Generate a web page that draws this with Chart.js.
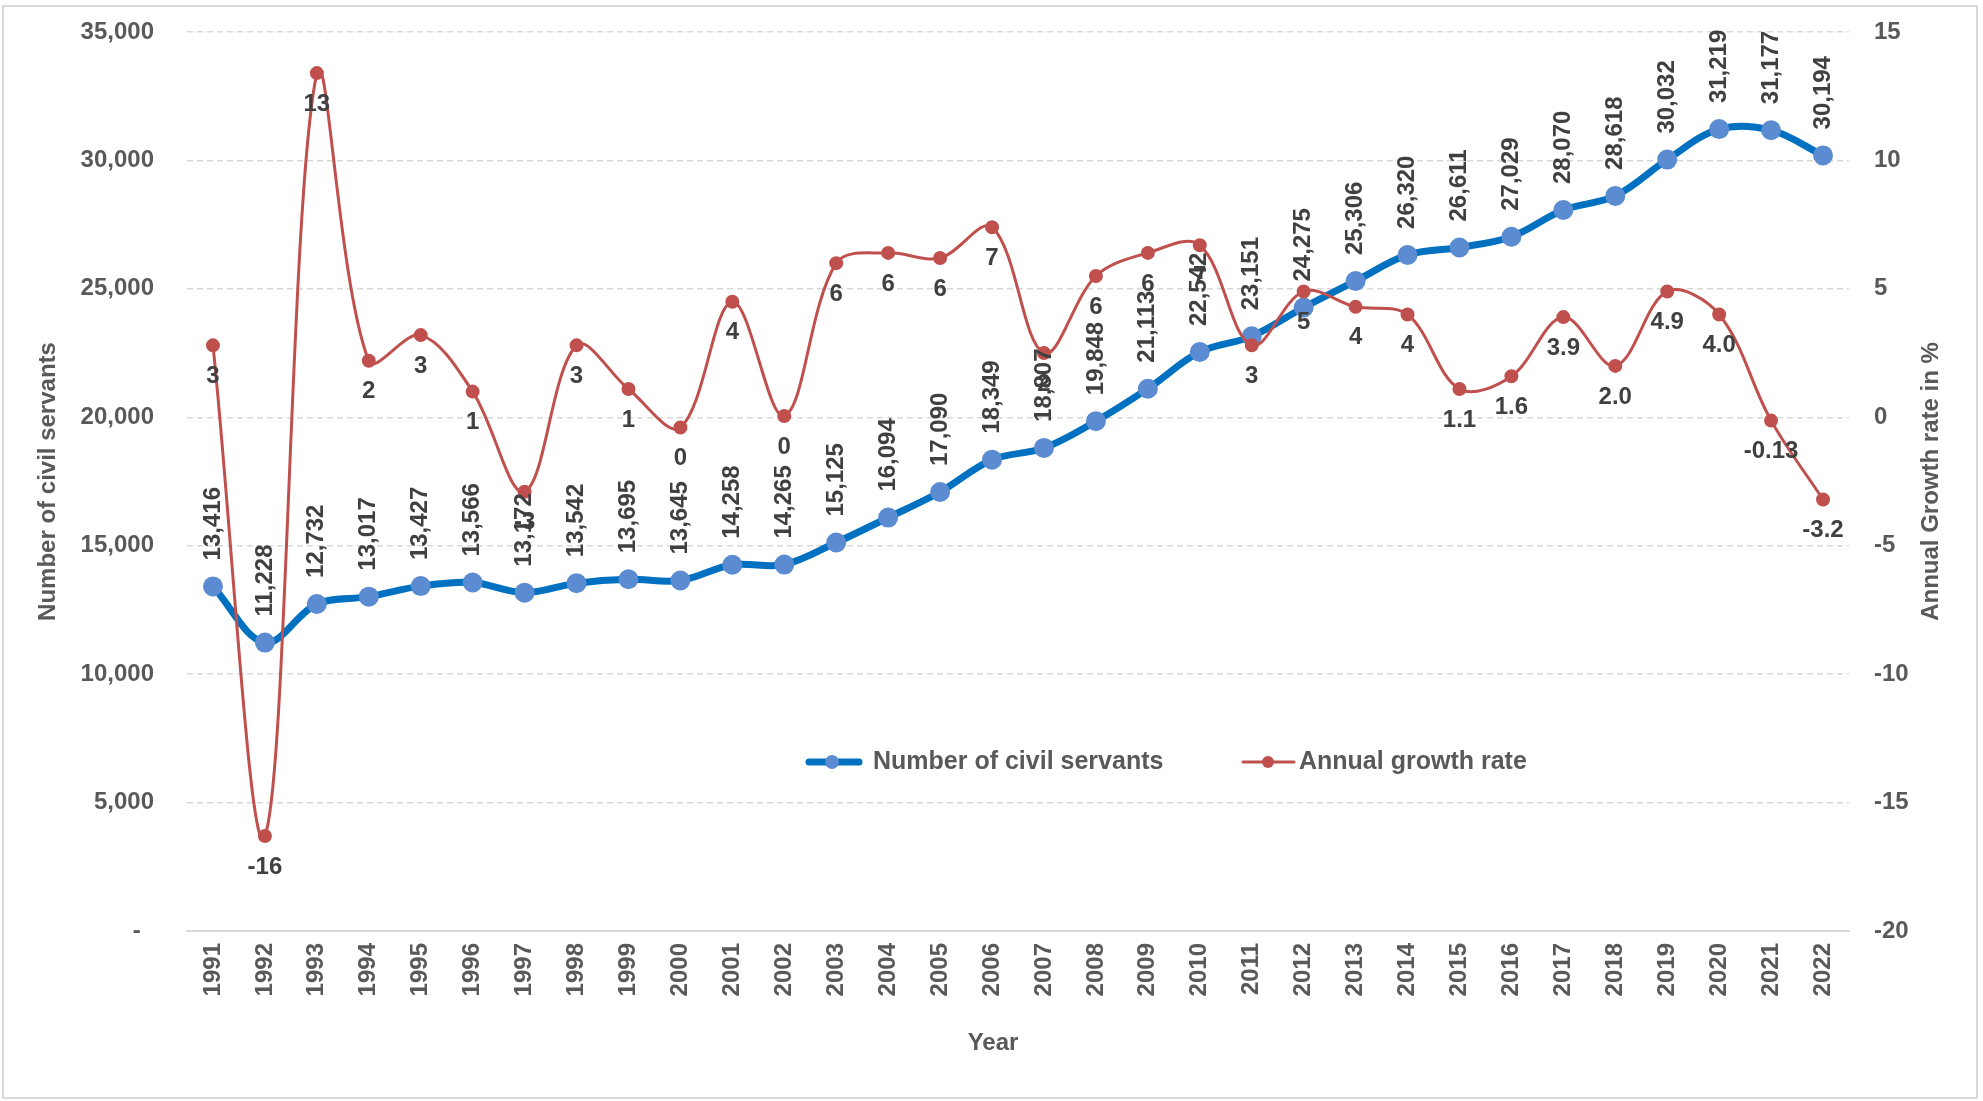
<!DOCTYPE html>
<html>
<head>
<meta charset="utf-8">
<script src="https://cdn.jsdelivr.net/npm/chart.js@4.4.1/dist/chart.umd.min.js"></script>
<style>
  html, body { margin: 0; padding: 0; background: #fff; }
  #wrap { width: 1983px; height: 1101px; position: relative; }
</style>
</head>
<body>
<div id="wrap"><canvas id="grafico" width="1983" height="1101"></canvas></div>
<script>
const years = ['1991','1992','1993','1994','1995','1996','1997','1998','1999','2000','2001','2002','2003','2004','2005','2006','2007','2008','2009','2010','2011','2012','2013','2014','2015','2016','2017','2018','2019','2020','2021','2022'];
const civilServants = [13416, 11228, 12732, 13017, 13427, 13566, 13172, 13542, 13695, 13645, 14258, 14265, 15125, 16094, 17090, 18349, 18807, 19848, 21113, 22542, 23151, 24275, 25306, 26320, 26611, 27029, 28070, 28618, 30032, 31219, 31177, 30194];
const growthRate = [2.8, -16.3, 13.4, 2.2, 3.2, 1.0, -2.9, 2.8, 1.1, -0.4, 4.5, 0.05, 6.0, 6.4, 6.2, 7.4, 2.5, 5.5, 6.4, 6.7, 2.8, 4.9, 4.3, 4.0, 1.1, 1.6, 3.9, 2.0, 4.9, 4.0, -0.13, -3.2];
const growthLabels = ['3','-16','13','2','3','1','-3','3','1','0','4','0','6','6','6','7','2','6','6','7','3','5','4','4','1.1','1.6','3.9','2.0','4.9','4.0','-0.13','-3.2'];
const leftTicks = { min: 0, max: 35000, step: 5000 };
const rightTicks = { min: -20, max: 15, step: 5 };

const FONT = '"Liberation Sans", Arial, sans-serif';
const GRAY = '#595959';
const DARK = '#404040';
const NONE = 'rgba(0,0,0,0)';

const decor = {
  id: 'decor',
  beforeDraw(chart) {
    const ctx = chart.ctx;
    ctx.save();
    ctx.fillStyle = '#fff';
    ctx.fillRect(0, 0, chart.width, chart.height);
    ctx.strokeStyle = '#d9d9d9';
    ctx.lineWidth = 2;
    ctx.strokeRect(3, 6, 1974, 1092);
    ctx.restore();
  },
  afterDatasetsDraw(chart) {
    const ctx = chart.ctx;
    ctx.save();
    ctx.font = 'bold 24px ' + FONT;
    ctx.fillStyle = DARK;
    // blue labels, vertical above the points
    chart.getDatasetMeta(0).data.forEach((pt, i) => {
      ctx.save();
      ctx.translate(pt.x, pt.y - 26);
      ctx.rotate(-Math.PI / 2);
      ctx.textAlign = 'left';
      ctx.textBaseline = 'middle';
      ctx.fillText(civilServants[i].toLocaleString('en-US'), 0, 0);
      ctx.restore();
    });
    // red labels below the points
    ctx.textAlign = 'center';
    ctx.textBaseline = 'middle';
    chart.getDatasetMeta(1).data.forEach((pt, i) => {
      ctx.fillText(growthLabels[i], pt.x, pt.y + 31);
    });
    ctx.restore();
  },
  afterDraw(chart) {
    const ctx = chart.ctx;
    const area = chart.chartArea;
    const midY = (area.top + area.bottom) / 2;
    ctx.save();
    ctx.font = 'bold 24px ' + FONT;
    ctx.fillStyle = GRAY;
    ctx.textAlign = 'center';
    ctx.textBaseline = 'middle';
    // axis titles
    ctx.save();
    ctx.translate(48, midY);
    ctx.rotate(-Math.PI / 2);
    ctx.fillText('Number of civil servants', 0, 0);
    ctx.restore();
    ctx.save();
    ctx.translate(1931, midY);
    ctx.rotate(-Math.PI / 2);
    ctx.fillText('Annual Growth rate in %', 0, 0);
    ctx.restore();
    ctx.fillText('Year', 993, 1043);

    // legend
    const ly = 762;
    ctx.lineCap = 'round';
    ctx.strokeStyle = '#0070C0';
    ctx.lineWidth = 7;
    ctx.beginPath(); ctx.moveTo(809, ly); ctx.lineTo(859, ly); ctx.stroke();
    ctx.fillStyle = '#5B8BD0';
    ctx.beginPath(); ctx.arc(832, ly, 7, 0, Math.PI * 2); ctx.fill();
    ctx.strokeStyle = '#C0504D';
    ctx.lineWidth = 3;
    ctx.beginPath(); ctx.moveTo(1243, ly); ctx.lineTo(1294, ly); ctx.stroke();
    ctx.fillStyle = '#C0504D';
    ctx.beginPath(); ctx.arc(1268, ly, 6, 0, Math.PI * 2); ctx.fill();
    ctx.fillStyle = GRAY;
    ctx.textAlign = 'left';
    ctx.font = 'bold 25px ' + FONT;
    ctx.fillText('Number of civil servants', 873, ly);
    ctx.fillText('Annual growth rate', 1299, ly);
    ctx.restore();
  }
};

const ctx = document.getElementById('grafico');
new Chart(ctx, {
  type: 'line',
  data: {
    labels: years,
    datasets: [
      {
        label: 'Number of civil servants',
        data: civilServants,
        yAxisID: 'y',
        borderColor: '#0070C0',
        backgroundColor: '#5B8BD0',
        pointBackgroundColor: '#5B8BD0',
        pointBorderColor: '#5B8BD0',
        pointRadius: 6.5,
        borderWidth: 7,
        tension: 0.35,
        order: 1
      },
      {
        label: 'Annual growth rate',
        data: growthRate,
        yAxisID: 'y1',
        borderColor: '#C0504D',
        backgroundColor: '#C0504D',
        pointBackgroundColor: '#C0504D',
        pointBorderColor: '#C0504D',
        pointRadius: 5.5,
        borderWidth: 3,
        tension: 0.35,
        order: 0
      }
    ]
  },
  options: {
    responsive: false,
    animation: false,
    layout: { padding: { top: 32, left: 0, right: 0, bottom: 0 } },
    plugins: { legend: { display: false }, tooltip: { enabled: false } },
    scales: {
      x: {
        offset: true,
        grid: { display: false, drawTicks: false },
        border: { display: true, color: '#d9d9d9', width: 2 },
        ticks: {
          autoSkip: false, maxRotation: 90, minRotation: 90, padding: 12,
          color: GRAY, font: { family: FONT, size: 24, weight: 'bold' }
        },
        afterFit(scale) { scale.height = 170; }
      },
      y: {
        position: 'left',
        min: leftTicks.min, max: leftTicks.max,
        grid: { color: '#d9d9d9', lineWidth: 1.5, drawTicks: true, tickLength: 33, tickColor: NONE },
        border: { display: false, dash: [6, 4] },
        ticks: {
          stepSize: leftTicks.step, padding: 0, color: GRAY,
          font: { family: FONT, size: 24, weight: 'bold' },
          callback: v => v === 0 ? '-  ' : v.toLocaleString('en-US')
        },
        afterFit(scale) { scale.width = 187; }
      },
      y1: {
        position: 'right',
        min: rightTicks.min, max: rightTicks.max,
        grid: { drawOnChartArea: false, drawTicks: true, tickLength: 25, color: NONE, tickColor: NONE },
        border: { display: false },
        ticks: {
          stepSize: rightTicks.step, padding: 0, color: GRAY,
          font: { family: FONT, size: 24, weight: 'bold' }
        },
        afterFit(scale) { scale.width = 134; }
      }
    }
  },
  plugins: [decor]
});
</script>
</body>
</html>
